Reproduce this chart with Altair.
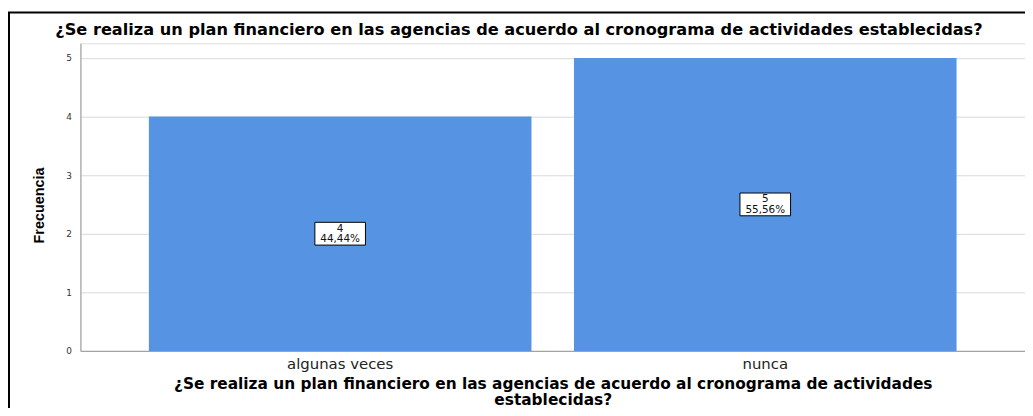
import altair as alt
import pandas as pd

categories = ["algunas veces", "nunca"]
counts = [4, 5]

total = sum(counts)
pcts = [c / total * 100 for c in counts]
labels = [[str(c), f"{p:.2f}%".replace(".", ",")] for c, p in zip(counts, pcts)]

df = pd.DataFrame({"cat": categories, "n": counts, "label": labels})

title_text = "¿Se realiza un plan financiero en las agencias de acuerdo al cronograma de actividades establecidas?"
xtitle = ["¿Se realiza un plan financiero en las agencias de acuerdo al cronograma de actividades", "establecidas?"]

narrow = "Liberation Sans, Arial, sans-serif"
wide = "DejaVu Sans, Verdana, sans-serif"

x = alt.X("cat:N", sort=categories,
          scale=alt.Scale(paddingInner=0.1, paddingOuter=0.161),
          axis=alt.Axis(title=xtitle, titleFont=wide, titleFontSize=15.5, titleFontWeight="bold",
                        titleColor="#000", titleX=476, titleY=33, titleBaseline="middle", titleLineHeight=16,
                        labelFont=wide, labelFontSize=15, labelColor="#222", labelAngle=0,
                        labelPadding=6, ticks=False, domainColor="#999", grid=False))
y = alt.Y("n:Q", scale=alt.Scale(domain=[0, 5.25], nice=False),
          axis=alt.Axis(values=[0, 1, 2, 3, 4, 5], format="d", title="Frecuencia", titleFont=narrow,
                        titleFontSize=14.5, titleFontWeight="bold", titleColor="#000",
                        titleX=-41, titleY=163, titleAngle=-90, titleBaseline="middle", titleAlign="center",
                        labelFont=wide, labelFontSize=9, labelColor="#333", labelPadding=9,
                        ticks=False, domainColor="#999", gridColor="#d9d9d9"))

bars = alt.Chart(df).mark_bar(color="#5694E3").encode(x=x, y=y)

base = alt.Chart(df).transform_calculate(mid="datum.n / 2")
box = base.mark_point(shape="M-1,-0.45L1,-0.45L1,0.45L-1,0.45Z", size=2601, filled=True,
                      fill="white", stroke="black", strokeWidth=1, opacity=1).encode(
    x=alt.X("cat:N", sort=categories), y=alt.Y("mid:Q"))
txt = base.mark_text(font=wide, fontSize=10.5, color="#111", lineHeight=10.5, baseline="middle", dy=-5).encode(
    x=alt.X("cat:N", sort=categories), y=alt.Y("mid:Q"), text="label")

frame = alt.Chart(pd.DataFrame({"a": [0]})).mark_rect(fill=None, stroke="black", strokeWidth=2).encode(
    x=alt.value(-72), x2=alt.value(965), y=alt.value(-31), y2=alt.value(400))

chart = alt.layer(bars, box, txt, frame).properties(
    width=952, height=310,
    title=alt.TitleParams(title_text, font=wide, fontSize=16.3, fontWeight="bold", color="#000",
                          anchor="middle", dx=-34, dy=36, offset=9),
    autosize=alt.AutoSizeParams(type="none"),
    padding={"left": 73, "top": 34, "right": 0, "bottom": 56},
).configure_view(stroke=None).configure(background="white")

chart.save("out.html", embed_options={"renderer": "svg", "actions": False})
